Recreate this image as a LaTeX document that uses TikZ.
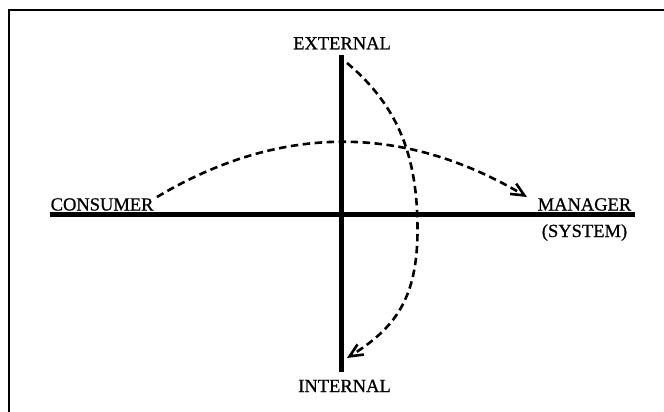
\documentclass[tikz,border=0pt]{standalone}
\usepackage{fontspec}
\setmainfont{Liberation Serif}
\newfontfamily\labfont{Liberation Serif}[FakeBold=0.8]
\usetikzlibrary{arrows.meta}
\begin{document}
\begin{tikzpicture}[x=1pt,y=-1pt,
  axis/.style={line width=5pt},
  frameline/.style={line width=2.2pt},
  lbl/.style={font=\labfont\fontsize{18.5}{20}\selectfont, inner sep=0pt, anchor=base},
  flow/.style={line width=2.6pt, dash pattern=on 7.5pt off 4.5pt,
    -{Straight Barb[length=13pt,width=12pt]}}]
\useasboundingbox (0,0) rectangle (664,412);
% frame
\coordinate (fb) at (8.7,412);
\coordinate (ftl) at (8.7,10);
\coordinate (ftr) at (664,10);
\draw[frameline] (fb) -- (ftl) -- (ftr);
% axes
\coordinate (hl) at (50,214.5);
\coordinate (hr) at (635,214.5);
\coordinate (vt) at (341.5,55);
\coordinate (vb) at (341.5,372);
\draw[axis] (hl) -- (hr);
\draw[axis] (vt) -- (vb);
% labels
\node[lbl] (ext) at (342,49.3) {EXTERNAL};
\node[lbl] (int) at (344.5,392) {INTERNAL};
\node[lbl, anchor=base west] (con) at (50.5,210.5) {CONSUMER};
\node[lbl] (man) at (584.5,210.5) {MANAGER};
\node[lbl] (sys) at (584.5,237) {(SYSTEM)};
% dashed flows
\coordinate (h0) at (157,197);
\coordinate (h1) at (527,197);
\draw[flow] (h0) .. controls (280.3,123.7) and (403.7,123.7) .. (h1);
\coordinate (v0) at (347,63);
\coordinate (vm) at (417.5,230);
\coordinate (v1) at (347,358);
\draw[flow] (v0) .. controls (400.6,108) and (417.5,160) .. (vm)
  .. controls (417.5,300) and (393.8,328.8) .. (v1);
\end{tikzpicture}
\end{document}
